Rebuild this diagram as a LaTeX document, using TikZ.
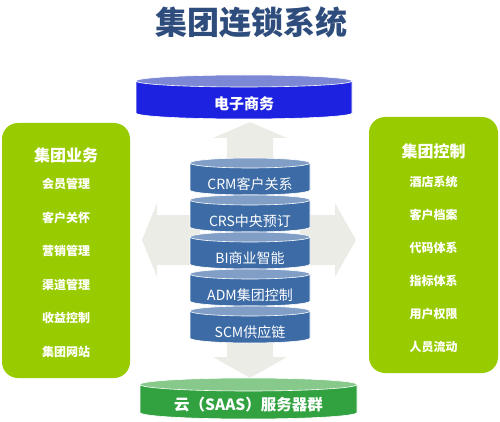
\documentclass[tikz,border=0pt]{standalone}
\usepackage{fontspec}
\setmainfont{Noto Sans CJK SC}
\usetikzlibrary{positioning}
\definecolor{titleblue}{HTML}{2E4C7C}
\definecolor{ecblue}{HTML}{1C22E0}
\definecolor{ectop}{HTML}{7C88D6}
\definecolor{stackblue}{HTML}{3D6BA6}
\definecolor{stacktop}{HTML}{819FC6}
\definecolor{boxgreen}{HTML}{99CC00}
\definecolor{cloudgreen}{HTML}{32A240}
\definecolor{cloudtop}{HTML}{86C98A}
\definecolor{arrowgrey}{HTML}{ECECE6}
\tikzstyle{drumtext}=[text=white, inner sep=0pt, font=\fontsize{14}{14}\selectfont]
\tikzstyle{panel}=[rectangle, rounded corners=16pt, fill=boxgreen, inner sep=0pt]
\tikzstyle{paneltitle}=[text=white, font=\fontsize{16}{16}\selectfont\bfseries]
\tikzstyle{panelitem}=[text=white, font=\fontsize{12}{12}\selectfont\bfseries]
\tikzstyle{fatarrow}=[fill=arrowgrey]
% drum: centre x, y of top ellipse, x radius, y radius, side height, body colour, top colour
\newcommand{\drum}[7]{%
    \filldraw[fill=#6, draw=white, line width=0.6pt] (#1-#3,#2) -- (#1-#3,#2+#5)
        arc[start angle=180, end angle=0, x radius=#3, y radius=#4] -- (#1+#3,#2) -- cycle;
    \filldraw[fill=#7, draw=white, line width=0.6pt] (#1,#2) ellipse[x radius=#3, y radius=#4];
}

\begin{document}
\begin{tikzpicture}[x=1pt, y=-1pt]
    \useasboundingbox (0,0) rectangle (500,422);

    \node (Title) [text=titleblue, font=\fontsize{32}{32}\selectfont\bfseries] at (251,22) {集团连锁系统};

    % big grey arrows behind the stack
    \fill[fatarrow] (250,122) -- (287,138) -- (273,138) -- (273,170) -- (227,170) -- (227,138) -- (213,138) -- cycle;
    \fill[fatarrow] (142,240) -- (157,203) -- (157,215) -- (200,215) -- (200,265) -- (157,265) -- (157,277) -- cycle;
    \fill[fatarrow] (356,240) -- (335,203) -- (335,215) -- (300,215) -- (300,265) -- (335,265) -- (335,277) -- cycle;
    \fill[fatarrow] (250,378) -- (287,357) -- (273,357) -- (273,330) -- (227,330) -- (227,357) -- (213,357) -- cycle;

    \drum{244}{81}{108}{6}{32}{ecblue}{ectop}
    \node (EC) [drumtext, font=\fontsize{15}{15}\selectfont\bfseries] at (244,104) {电子商务};

    \node (Business) [panel, minimum width=128pt, minimum height=255pt] at (66,250.5) {};
    \node (Control) [panel, minimum width=129pt, minimum height=256pt] at (433.5,245) {};

    \node (BusinessTitle) [paneltitle] at (66,155) {集团业务};
    \foreach \t [count=\i] in {会员管理,客户关怀,营销管理,渠道管理,收益控制,集团网站}
        \node (b\i) [panelitem] at (66,{184+33.5*(\i-1)}) {\t};

    \node (ControlTitle) [paneltitle] at (433.5,151) {集团控制};
    \foreach \t [count=\i] in {酒店系统,客户档案,代码体系,指标体系,用户权限,人员流动}
        \node (c\i) [panelitem] at (433.5,{182+33*(\i-1)}) {\t};

    \foreach \t [count=\i] in {CRM客户关系,CRS中央预订,BI商业智能,ADM集团控制,SCM供应链} {
        \pgfmathsetmacro{\ytop}{163+37*(\i-1)}
        \drum{250}{\ytop}{60}{5}{27}{stackblue}{stacktop}
        \node (db\i) [drumtext] at (250,\ytop+21.5) {\t};
    }

    \drum{248.5}{384.5}{108.5}{6.5}{28}{cloudgreen}{cloudtop}
    \node (Cloud) [drumtext, font=\fontsize{15.5}{15.5}\selectfont\bfseries] at (248.5,405) {云（SAAS）服务器群};

\end{tikzpicture}
\end{document}
